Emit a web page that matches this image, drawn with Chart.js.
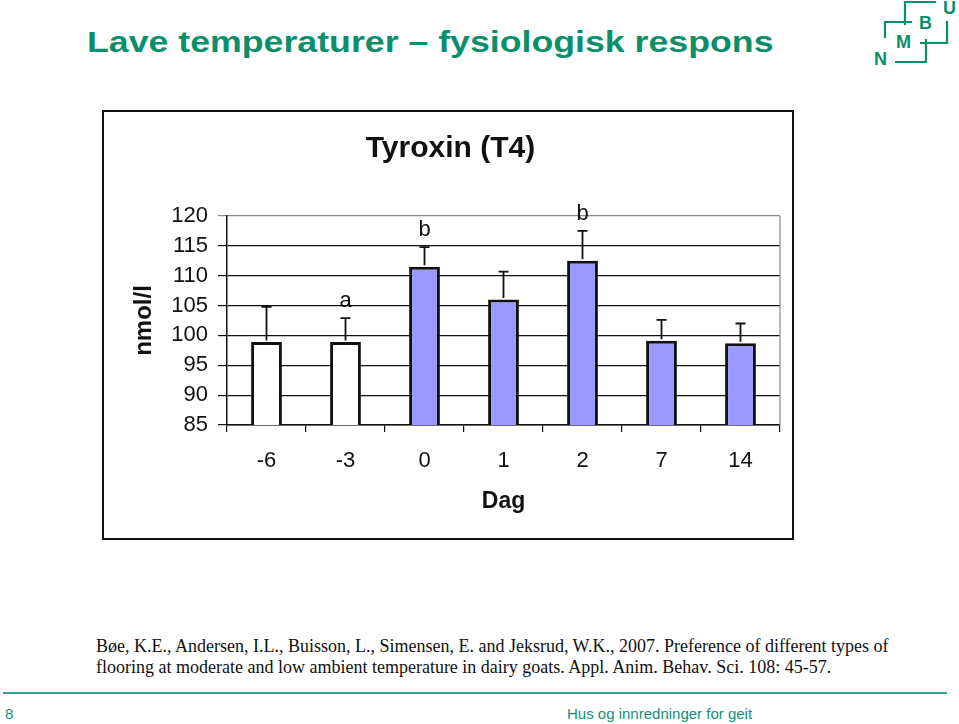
<!DOCTYPE html>
<html>
<head>
<meta charset="utf-8">
<script src="https://cdn.jsdelivr.net/npm/chart.js@4.4.0/dist/chart.umd.min.js"></script>
<style>
  html, body { margin:0; padding:0; background:#fff; }
  body { width:959px; height:724px; position:relative; overflow:hidden; font-family:"Liberation Sans", Arial, sans-serif; }
  #title { position:absolute; left:87px; top:25px; font-size:30px; font-weight:bold; color:#0b8f6b; white-space:nowrap; transform-origin:left top; transform:scaleX(1.19); }
  #box { position:absolute; left:102px; top:110px; width:692px; height:430px; border:2px solid #111; box-sizing:border-box; }
  #box canvas { display:block; }
  .cite { position:absolute; left:96px; font-family:"Liberation Serif", "Times New Roman", serif; font-size:18px; color:#111; white-space:nowrap; }
  #rule { position:absolute; left:3px; top:692px; width:944px; height:2px; background:#3a9a8c; }
  #pg { position:absolute; left:5px; top:705px; font-size:15px; color:#11907a; }
  #foot { position:absolute; left:567px; top:705px; font-size:15px; color:#11907a; white-space:nowrap; }
  #logo { position:absolute; left:860px; top:0px; }
</style>
</head>
<body>
<div id="title">Lave temperaturer – fysiologisk respons</div>
<svg id="logo" width="99" height="70" viewBox="860 0 99 70">
  <g stroke="#0b8f6b" stroke-width="2.2" fill="none">
    <polyline points="936,2 905,2 905,25"/>
    <polyline points="912,22 885,22 885,38"/>
    <polyline points="947,21 947,43 920,43"/>
    <polyline points="926,39 926,62 895,62"/>
  </g>
  <g fill="#0b8f6b" font-family="Liberation Sans, Arial, sans-serif" font-weight="bold" font-size="18">
    <text x="943" y="14">U</text>
    <text x="919" y="29">B</text>
    <text x="896" y="48">M</text>
    <text x="874" y="65">N</text>
  </g>
</svg>
<div id="box"><canvas id="c" width="688" height="426"></canvas></div>
<div class="cite" style="top:636px;">Bøe, K.E., Andersen, I.L., Buisson, L., Simensen, E. and Jeksrud, W.K., 2007. Preference of different types of</div>
<div class="cite" style="top:657px;">flooring at moderate and low ambient temperature in dairy goats. Appl. Anim. Behav. Sci. 108: 45-57.</div>
<div id="rule"></div>
<div id="pg">8</div>
<div id="foot">Hus og innredninger for geit</div>
<script>
const chartTitle = 'Tyroxin (T4)';
const days = ['-6', '-3', '0', '1', '2', '7', '14'];
const t4Mean = [98.9, 98.9, 111.5, 106, 112.5, 99.1, 98.7];
const t4ErrTop = [104.8, 102.9, 114.8, 110.7, 117.5, 102.6, 102];
const sigLetters = ['', 'a', 'b', '', 'b', '', ''];
const barColors = ['#ffffff', '#ffffff', '#9999ff', '#9999ff', '#9999ff', '#9999ff', '#9999ff'];
const yTicks = [85, 90, 95, 100, 105, 110, 115, 120];

const FONT = '"Liberation Sans", Arial, sans-serif';

const errPlugin = {
  id: 'errbars',
  afterDatasetsDraw(chart) {
    const ctx = chart.ctx;
    const meta = chart.getDatasetMeta(0);
    const y = chart.scales.y;
    ctx.save();
    const a = chart.chartArea;
    ctx.strokeStyle = '#8a8a8a';
    ctx.lineWidth = 1.2;
    ctx.beginPath();
    ctx.moveTo(a.right, a.top); ctx.lineTo(a.right, a.bottom);
    ctx.stroke();
    ctx.strokeStyle = '#111';
    ctx.lineWidth = 1.8;
    meta.data.forEach((bar, i) => {
      const yTop = y.getPixelForValue(t4ErrTop[i]);
      const yBar = y.getPixelForValue(t4Mean[i]);
      ctx.beginPath();
      ctx.moveTo(bar.x, yBar - 1.5);
      ctx.lineTo(bar.x, yTop);
      ctx.moveTo(bar.x - 5, yTop);
      ctx.lineTo(bar.x + 5, yTop);
      ctx.stroke();
      if (sigLetters[i]) {
        ctx.fillStyle = '#111';
        ctx.font = '22px ' + FONT;
        ctx.textAlign = 'center';
        ctx.textBaseline = 'middle';
        ctx.fillText(sigLetters[i], bar.x, yTop - 17);
      }
    });
    // chart title, centred on the chart box
    ctx.fillStyle = '#111';
    ctx.font = 'bold 30px ' + FONT;
    ctx.textAlign = 'center';
    ctx.textBaseline = 'middle';
    ctx.fillText(chartTitle, (a.left + a.right) / 2 - 53, 37);
    ctx.restore();
  }
};

new Chart(document.getElementById('c'), {
  type: 'bar',
  data: {
    labels: days,
    datasets: [{
      data: t4Mean,
      backgroundColor: barColors,
      borderColor: '#111',
      borderWidth: 3,
      borderSkipped: false,
      barPercentage: 0.39,
      categoryPercentage: 1.0
    }]
  },
  options: {
    responsive: false,
    animation: false,
    devicePixelRatio: 1,
    layout: { padding: { left: 0, right: 12, top: 104, bottom: 0 } },
    plugins: {
      legend: { display: false },
      tooltip: { enabled: false },
      title: { display: false }
    },
    scales: {
      x: {
        grid: { display: true, drawOnChartArea: false, color: '#111', tickLength: 7, lineWidth: 1.2 },
        border: { color: '#111', width: 1.5 },
        ticks: { color: '#111', font: { family: FONT, size: 22 }, padding: 16, maxRotation: 0 },
        title: { display: true, text: 'Dag', color: '#111', font: { family: FONT, size: 23, weight: 'bold', lineHeight: 1.2 }, padding: { top: 0, bottom: 23 } },
        afterFit(s) { s.height = 113; }
      },
      y: {
        min: 85, max: 120,
        afterBuildTicks(s) { s.ticks = yTicks.map(v => ({ value: v })); },
        grid: {
          color: ctx => (ctx.tick && ctx.tick.value === 120) ? '#8a8a8a' : '#111',
          lineWidth: 1.2, tickLength: 9
        },
        border: { color: '#111', width: 1.5 },
        ticks: { color: '#111', font: { family: FONT, size: 22 }, padding: 10 },
        title: { display: true, text: 'nmol/l', color: '#111', font: { family: FONT, size: 24, weight: 'bold', lineHeight: 1.2 }, padding: { top: 26, bottom: 0 } },
        afterFit(s) { s.width = 123; }
      }
    }
  },
  plugins: [errPlugin]
});
</script>
</body>
</html>
